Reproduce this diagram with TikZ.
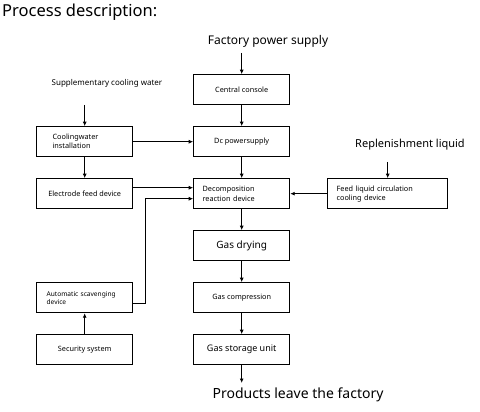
\documentclass[tikz,border=0pt]{standalone}
\usepackage{fontspec}
\setmainfont{Noto Sans}
\usetikzlibrary{arrows.meta}

\begin{document}
\begin{tikzpicture}[
	block/.style={
		rectangle,
		draw=black, line width=0.8pt,
		minimum width=96.2pt, minimum height=30.2pt, inner sep=0pt,
		font=\fontsize{7.3}{9}\selectfont, text centered
	},
	lblock/.style={block, text width=78.2pt, inner xsep=9pt, align=left},
	label/.style={inner sep=0pt, font=\fontsize{12}{14}\selectfont},
	line/.style={draw, line width=1pt, -{Latex[length=4.5pt,width=4pt]}},
	]
	\useasboundingbox (0,0) rectangle (480pt,-412pt);

	\matrix[row sep=21pt, column sep=60pt, inner sep=0pt, anchor=north west] at (36pt,-74pt) {
		& \node [block] (cc) {Central console}; \\
		\node [lblock, text width=64.2pt, inner xsep=16pt] (cw) {Coolingwater\\installation};
		& \node [block] (dc) {Dc powersupply}; \\
		\node [block] (efd) {Electrode feed device};
		& \node [lblock, font=\fontsize{7.3}{10}\selectfont] (dec) {Decomposition\\reaction device};
		&[-23pt] \node [lblock, minimum width=120.2pt, text width=102.2pt] (flc) {Feed liquid circulation\\cooling device}; \\
		& \node [block, font=\fontsize{10}{12}\selectfont] (gd) {Gas drying}; \\
		\node [lblock, inner xsep=10pt, text width=76.2pt, font=\fontsize{6.6}{8}\selectfont] (asd) {Automatic scavenging\\device};
		& \node [block, font=\fontsize{7.3}{8}\selectfont] (gc) {Gas compression}; \\
		\node [block] (ss) {Security system};
		& \node [block, font=\fontsize{9}{10}\selectfont] (gsu) {Gas storage unit}; \\
	};

	% outside labels
	\node [label, anchor=west, font=\fontsize{16.5}{19}\selectfont] (pd) at (2pt,-12pt) {Process description:};
	\node [label] (fps) at (268pt,-41pt) {Factory power supply};
	\node [label, font=\fontsize{8}{9}\selectfont] (scw) at (107pt,-83pt) {Supplementary cooling water};
	\node [label, font=\fontsize{11}{13}\selectfont] (rl) at (410pt,-145pt) {Replenishment liquid};
	\node [label, font=\fontsize{14}{16}\selectfont] (plf) at (298pt,-395pt) {Products leave the factory};

	\coordinate (fpsin) at (cc.north |- 0,-53pt);
	\coordinate (scwin) at (cw.north |- 0,-105pt);
	\coordinate (rlin) at (flc.north |- 0,-162pt);
	\coordinate (out) at (gsu.south |- 0,-383pt);

	\path [line] (fpsin) -- (cc);
	\path [line] (cc) -- (dc);
	\path [line] (dc) -- (dec);
	\path [line] (dec) -- (gd);
	\path [line] (gd) -- (gc);
	\path [line] (gc) -- (gsu);
	\path [line] (gsu) -- (out);
	\path [line] (scwin) -- (cw);
	\path [line] (cw) -- (efd);
	\path [line] (cw) -- (dc);
	\path [line] ([yshift=6pt]efd.east) -- ([yshift=6pt]dec.west);
	\path [line] ([yshift=-6pt]asd.east) -- ++(12pt,0) |- ([yshift=-5pt]dec.west);
	\path [line] (ss) -- (asd);
	\path [line] (rlin) -- (flc);
	\path [line] (flc) -- (dec);
\end{tikzpicture}
\end{document}
